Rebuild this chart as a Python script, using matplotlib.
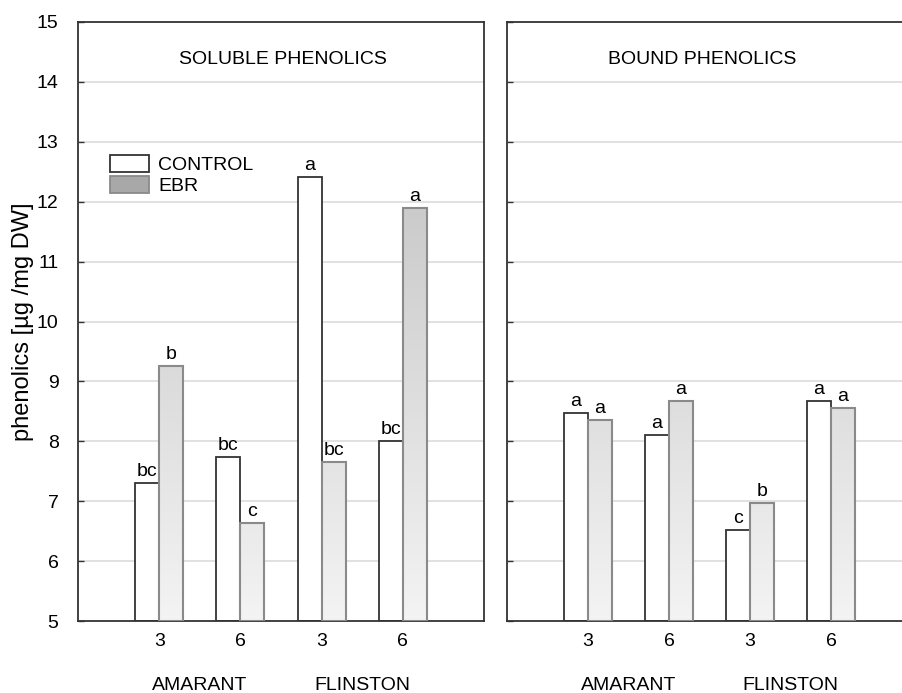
import numpy as np
import matplotlib
matplotlib.use("Agg")
import matplotlib.pyplot as plt
from matplotlib.patches import Patch, Rectangle

plt.rcParams['font.family'] = ['Liberation Sans', 'DejaVu Sans']

cultivars = ["AMARANT", "FLINSTON"]
tick_labels = ["3", "6", "3", "6"]
series = ["CONTROL", "EBR"]

soluble_control = [7.30, 7.73, 12.41, 8.00]
soluble_ebr = [9.25, 6.63, 7.65, 11.90]
soluble_control_letters = ["bc", "bc", "a", "bc"]
soluble_ebr_letters = ["b", "c", "bc", "a"]

bound_control = [8.47, 8.10, 6.52, 8.68]
bound_ebr = [8.35, 8.68, 6.97, 8.55]
bound_control_letters = ["a", "a", "c", "a"]
bound_ebr_letters = ["a", "a", "b", "a"]

W, H = 902, 693
fig = plt.figure(figsize=(W / 100, H / 100), dpi=100)

ymin, ymax = 5, 15
bw = 0.296
edge_dark = '#333333'
edge_gray = '#8a8a8a'
FS = 14


def gray_at(v):
    t = (v - ymin) / (ymax - ymin)
    return 0.955 - 0.23 * t


def panel(ax, ctrl, ebr, lc, le, title, title_x, show_y):
    x = np.arange(1, len(ctrl) + 1)
    for yv in range(6, 15):
        ax.axhline(yv, color='#dcdcdc', lw=1.2, zorder=0)
    ax.bar(x - bw / 2, np.array(ctrl) - ymin, bottom=ymin, width=bw,
           color='white', edgecolor=edge_dark, linewidth=1.3, zorder=2)
    for xi, v in zip(x + bw / 2, ebr):
        vals = np.linspace(v, ymin, 200)
        g = gray_at(vals)
        img = np.stack([g, g, g], axis=-1)[:, None, :].repeat(2, axis=1)
        ax.imshow(img, extent=[xi - bw / 2, xi + bw / 2, ymin, v],
                  aspect='auto', zorder=2, interpolation='bilinear')
        ax.add_patch(Rectangle((xi - bw / 2, ymin), bw, v - ymin, fill=False,
                               edgecolor=edge_gray, linewidth=1.5, zorder=3))
    ax.set_xlim(0, 5)
    ax.set_ylim(ymin, ymax)
    ax.set_yticks(np.arange(5, 16, 1))
    for xi, v, t in zip(x - bw / 2, ctrl, lc):
        ax.text(xi, v + 0.05, t, ha='center', va='bottom', fontsize=FS, zorder=4)
    for xi, v, t in zip(x + bw / 2, ebr, le):
        ax.text(xi, v + 0.05, t, ha='center', va='bottom', fontsize=FS, zorder=4)
    ax.set_xticks(x)
    ax.set_xticklabels(tick_labels, fontsize=FS)
    ax.tick_params(axis='x', length=0, pad=9)
    ax.tick_params(axis='y', direction='in', length=4, width=1, color=edge_dark,
                   labelsize=FS, pad=14, labelleft=show_y)
    for s in ax.spines.values():
        s.set_color(edge_dark)
        s.set_linewidth(1.3)
    ax.text(title_x, 0.9366, title, transform=ax.transAxes, ha='center',
            va='center', fontsize=FS)
    for i, c in enumerate(cultivars):
        ax.text(x[2 * i:2 * i + 2].mean(), -0.107, c, transform=ax.get_xaxis_transform(),
                ha='center', va='center', fontsize=FS)


bottom = 1 - 621 / H
height = 599 / H
ax1 = fig.add_axes([78 / W, bottom, 406 / W, height])
ax2 = fig.add_axes([507 / W, bottom, 405 / W, height])

panel(ax1, soluble_control, soluble_ebr, soluble_control_letters, soluble_ebr_letters,
      "SOLUBLE PHENOLICS", 0.505, True)
panel(ax2, bound_control, bound_ebr, bound_control_letters, bound_ebr_letters,
      "BOUND PHENOLICS", 0.482, False)

ax1.set_ylabel("phenolics [µg /mg DW]", fontsize=17, labelpad=2)

handles = [Patch(facecolor='white', edgecolor=edge_dark, linewidth=1.3),
           Patch(facecolor='#a8a8a8', edgecolor='#8a8a8a', linewidth=1.3)]
ax1.legend(handles, series, loc='upper left', bbox_to_anchor=(0.078, 0.778),
           frameon=False, fontsize=FS, handlelength=2.0, handleheight=0.95,
           labelspacing=0.12, borderpad=0, borderaxespad=0, handletextpad=0.5)

fig.savefig("out.png", dpi=100)
